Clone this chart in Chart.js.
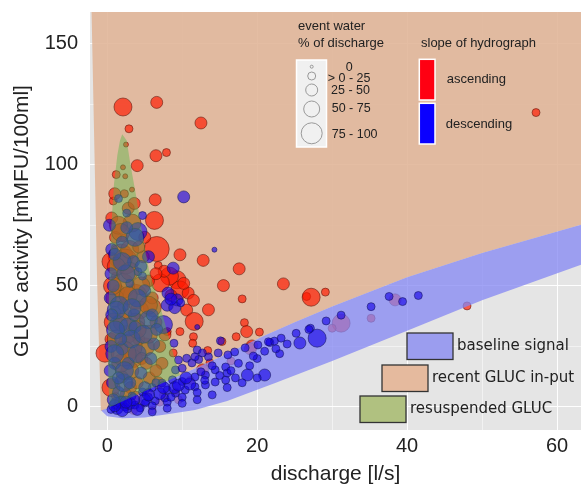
<!DOCTYPE html>
<html>
<head>
<meta charset="utf-8">
<script src="https://cdn.jsdelivr.net/npm/chart.js@4.4.1/dist/chart.umd.min.js"></script>
<style>
  html, body { margin: 0; padding: 0; background: #fff; }
  #wrap { width: 581px; height: 485px; }
</style>
</head>
<body>
<div id="wrap"><canvas id="gluc"></canvas></div>
<script>
// tick labels
const xTickLabels = [0, 20, 40, 60];
const yTickLabels = [0, 50, 100, 150];

// ascending limb (red): discharge, GLUC activity, event-water class
const ascX = [2.1, 6.6, 2.9, 12.5, 57.2, 6.5, 7.9, 4.0, 1.2, 2.1, 2.4, 2.5, 3.3, 6.4, 0.6, 3.3, 6.3, 0.9, 2.2, 1.8,
  0.5, 6.6, 9.7, 12.8, 6.8, 17.6, 15.5, 18.0, 23.5, 26.6, 27.2, 29.1, 9.3, 8.3, 7.1, 9.7, 10.8, 10.6, 11.6, 13.5,
  9.7, 11.5, 11.4, 13.4, 15.3, 18.3, 18.6, 20.3, 19.3, 17.2, 8.0, -0.3, 48.0, 38.4, 35.2, 31.2, 30.0, 19.1,
  2.4, 3.7, 1.1, 1.1, 1.0, 2.5, 6.0, 5.1, 3.5, 3.0, 7.3, 2.0, 7.7, 8.8, 4.2, 1.5, 5.5, 0.8, 2.3, 4.8, 6.5, 3.1,
  5.6, 0.5, 4.3, 2.7, 2.4, 3.0, 6.0, 12.7, 13.7, 11.1, 9.1, 7.5, 4.1, 1.1, 16.5, 8.5, 10.2, 7.6, 11.5,
  1.5, 3.0, 2.0, 4.5, 1.0, 3.0, 5.5, 1.8, 4.0, 6.5, 2.5, 0.8, 5.0, 2.8, 1.2, 6.0, 7.0, 3.8, 2.2, 4.6,
  4.5, 7.0, 3.5, 9.5, 5.5,
  0.5, 1.2, 2.2, 4.0, 5.5, 3.0, 1.8, 4.2, 0.7, 2.8, 6.5, 5.2, 6.8, 3.8, 2.0, 1.0, 3.6];
const ascY = [123.8, 125.7, 114.8, 117.2, 121.5, 103.7, 105, 99.6, 95.9, 98.9, 95.2, 108.3, 89.7, 85.5, 78, 75.9, 77, 66, 69.7, 62.1,
  60, 65.2, 62.8, 60.5, 58.4, 57, 50.1, 44.6, 50.8, 45.6, 45.3, 47.4, 52.5, 54, 51.2, 48.3, 47, 40, 35.3, 40.1,
  31.1, 29, 26.3, 23.3, 27, 34.8, 31.1, 30.9, 25.2, 29, 31.1, 22.2, 41.7, 44.2, 36.6, 34.6, 32.5, 24,
  60, 45.5, 70, 54, 39, 38, 41, 24.8, 20, 15, 18, 12.4, 29.8, 22.3, 28, 48, 52, 85, 88, 62, 35, 8,
  12, 28, 40, 30, 2.9, 0.6, -1.2, 15.3, 18.2, 11, 6.2, 5, 2.9, 4.4, 19, 46, 51, 56, 44,
  75, 65, 50, 50, 45, 25, 30, 18, 10, 15, 5, 35, 70, 82, 58, 45, 25, 35, 42, 20,
  1, 2, -1.5, 3, 6,
  8, 28, 22, 32, 42, 56, 72, 66, 50, 46, 55, 18, 10, 4, 35, 88, 84];
const ascS = [4, 3, 2, 3, 2, 3, 2, 3, 2, 1, 1, 1, 1, 3, 3, 4, 4, 1, 2, 5,
  4, 5, 3, 3, 2, 3, 3, 2, 3, 2, 4, 2, 4, 4, 4, 4, 3, 3, 4, 3,
  2, 2, 2, 2, 2, 2, 3, 2, 3, 2, 2, 4, 2, 3, 2, 4, 2, 3,
  5, 5, 3, 2, 3, 3, 4, 4, 4, 4, 3, 3, 3, 2, 3, 3, 3, 2, 2, 3, 3, 3,
  3, 3, 4, 4, 2, 2, 2, 3, 2, 2, 2, 2, 2, 2, 2, 3, 3, 3, 3,
  4, 4, 5, 4, 4, 5, 4, 4, 3, 3, 3, 4, 3, 3, 4, 3, 3, 4, 3, 3,
  2, 2, 2, 2, 2,
  4, 4, 5, 4, 4, 4, 4, 3, 4, 4, 3, 3, 3, 3, 4, 3, 3];

// descending limb (blue)
const descX = [10.2, 4.1, 14.3, 8.8, 9.3, 8.1, 12.0, 12.0, 10.6, 15.1, 8.9, 8.0, 9.0, 9.8, 8.5,
  3.7, 4.1, 4.7, 3.0, 5.5, 7.5, 1.5, 2.8, 1.1, 3.7, 0.5, 1.0, 0.7, 1.5, 0.4, 0.8, 2.6, 1.5, 0.3, 3.5, 5.0, 6.2, 4.5, 2.0, 0.5, 1.6, 4.7,
  41.5, 39.4, 35.2, 31.2, 29.2, 27.1, 25.2, 28.0, 21.7, 22.3, 23.2, 25.7, 26.9, 20.1, 37.6,
  9.1, 10.0, 11.3, 12.2, 13.5, 14.8, 16.1, 17.0, 18.4, 21.5, 9.5, 11.7, 12.7,
  18.7, 21.0, 17.1, 15.8, 14.4, 13.1, 11.7, 10.4, 9.1, 7.7, 6.4, 5.1, 3.7, 2.4, 1.3, 2.7, 4.4,
  7.3, 8.7, 6.0, 4.7, 3.3, 2.0, 10.0, 11.7, 13.1, 14.4, 15.8, 5.5, 8.0, 1.2, 0.5,
  1.2, 2.5, 4.0, 0.6, 2.0, 3.2, 5.8, 1.0, 2.2, 4.8, 3.6, 6.6, 0.4, 2.8, 1.8,
  3.0, 5.0, 7.0, 9.0, 11.0, 13.0, 2.0, 4.0, 6.0, 8.0, 10.0, 12.0, 1.0, 6.5, 16.0, 19.0, 20.0, 23.0,
  2.0, 4.5, 1.0, 3.3, 6.0, 0.6, 2.3, 4.0, 1.5, 5.0, 3.0, 0.8, 1.8, 5.5, 2.6,
  3.5, 5.5, 7.5, 8.5, 9.5, 10.5, 12.5, 14.0, 15.0, 16.5, 17.5, 19.5, 21.0, 22.5, 24.0,
  2.5, 6.0, 8.0, 10.0, 12.0, 14.0, 16.0, 18.0, 20.0];
const descY = [86.7, 72.4, 64.9, 57.3, 44.2, 47, 33, 23.5, 20.1, 27.3, 26.3, 42, 41, 43, 44.5,
  70, 55.8, 54, 51, 36, 34, 34, 33, 31.8, 33, 25, 18, 10, 6, 45, 50, 80, 86, 75, 60, 48, 26, 14, 24, 55, 42, 79,
  46, 43.5, 41.4, 37.9, 35.5, 32.5, 30.4, 28.4, 26.6, 27.2, 28.4, 26.4, 32, 25.6, 45.6,
  15.3, 16, 18.2, 19.6, 20.7, 22.3, 21.5, 22.7, 24.4, 26.9, 19.4, 20.7, 22.3,
  13.2, 13.2, 12, 11.1, 10.3, 9.1, 8.3, 7, 5.7, 3.7, 2.5, 1.7, 0.8, 0, -0.6, -0.8, -0.4,
  9.9, 11.2, 8, 6.2, 4.5, 2.9, 10.5, 12.4, 13.2, 15.3, 16.5, 4, 7, 1.5, -1,
  40, 55, 45, 65, 68, 28, 20, 22, 10, 30, 38, 32, 15, 18, 2,
  1.5, 3, 5.5, 8, 9.5, 11, -1.5, -1, 0.5, 2, 4, 6, 0.5, 10, 14, 17, 20, 22,
  60, 58, 63, 41, 38, 38, 15, 22, 12, 8, 10, 3, 28, 62, 74,
  3, 5, 8, 4, 9, 12, 14.5, 17, 13, 15, 18, 21, 23, 24, 26,
  2, -2, -0.5, 1.5, 3, 5, 8, 10, 12];
const descS = [3, 4, 1, 3, 3, 3, 1, 2, 2, 2, 2, 3, 3, 2, 3,
  4, 2, 2, 2, 4, 4, 4, 4, 4, 3, 3, 3, 3, 3, 3, 3, 2, 2, 3, 3, 3, 3, 3, 3, 3, 4, 2,
  2, 2, 2, 2, 2, 2, 2, 4, 2, 2, 2, 3, 2, 2, 2,
  2, 2, 2, 2, 2, 2, 2, 2, 2, 2, 2, 2, 2,
  3, 3, 2, 2, 2, 2, 2, 2, 2, 2, 2, 2, 2, 2, 3, 2, 2,
  2, 2, 2, 2, 2, 2, 2, 2, 2, 2, 2, 2, 2, 3, 2,
  4, 4, 4, 3, 3, 4, 3, 4, 4, 4, 3, 3, 3, 3, 3,
  3, 3, 3, 3, 3, 2, 3, 3, 2, 2, 2, 2, 3, 2, 2, 2, 2, 2,
  4, 3, 3, 4, 3, 3, 4, 4, 3, 3, 3, 3, 3, 3, 3,
  3, 3, 3, 2, 3, 3, 2, 2, 2, 2, 2, 2, 2, 2, 2,
  3, 2, 2, 2, 2, 2, 2, 2, 2];

// outline of the "baseline signal" band (top edge, then bottom edge back)
const baseX = [-0.8, 0, 5, 10, 15, 21, 25, 30, 40, 50, 63.2, 67,
  67, 63.2, 50, 40, 30, 22.4, 16, 11.7, 8, 5, 2, 0, -0.8];
const baseY = [-1.5, -0.5, 6.5, 13.5, 20.5, 29.5, 35, 41.5, 53.5, 63.5, 75.2, 78.5,
  62.5, 58.7, 44, 31.5, 19, 9.9, 2.5, -1.2, -3, -4.3, -4.6, -3.8, -1.5];

// outline of "recent GLUC in-put"
const inputX = [-2.15, -1.35, -0.85, 0, 5, 10, 15, 21, 25, 30, 40, 50, 63.2, 67, 67];
const inputY = [172, 52, -1.8, -0.5, 6.5, 13.5, 20.5, 29.5, 35, 41.5, 53.5, 63.5, 75.2, 78.5, 172];

// outline of "resuspended GLUC"
const resuspX = [2.0, 2.6, 3.1, 3.8, 4.4, 5.0, 5.6, 6.4, 7.2, 8.0, 8.8, 9.7, 5, 2, 0.3,
  0.15, 0.1, 0.3, 0.55, 0.9, 1.35, 1.7];
const resuspY = [112.5, 110, 100, 88, 77, 66, 56, 48, 40, 31, 22, 13.1, 6.5, 2.3, -0.1,
  10, 30, 55, 75, 92, 104, 110];

const SIZE_R = [0, 2.5, 4, 6, 9, 12.5];

const toPts = (xs, ys) => xs.map((x, i) => ({ x: x, y: ys[i] }));
const toBubbles = (xs, ys, ss) => xs.map((x, i) => ({ x: x, y: ys[i], r: SIZE_R[ss[i]] }));

const panelBg = {
  id: 'panelBg',
  beforeDraw(chart) {
    const { ctx, chartArea: a } = chart;
    ctx.save();
    ctx.fillStyle = '#e5e5e5';
    ctx.fillRect(a.left, a.top, a.right - a.left, a.bottom - a.top);
    ctx.restore();
  }
};

const legends = {
  id: 'legends',
  afterDraw(chart) {
    const ctx = chart.ctx;
    ctx.save();
    ctx.fillStyle = '#222';
    ctx.textBaseline = 'middle';
    ctx.font = '13px "Liberation Sans", Arial, sans-serif';
    ctx.fillText('event water', 298, 26);
    ctx.fillText('% of discharge', 298, 43);
    ctx.fillText('slope of hydrograph', 421, 43);

    // size legend box
    ctx.fillStyle = '#f0f0f0';
    ctx.fillRect(296.5, 60, 30, 87);
    ctx.strokeStyle = '#fff';
    ctx.lineWidth = 1.5;
    ctx.strokeRect(296.5, 60, 30, 87);
    ctx.strokeStyle = '#999';
    ctx.lineWidth = 1;
    [[66.7, 1.5], [76, 4], [90, 6], [109, 8], [133.3, 10.5]].forEach(c => {
      ctx.beginPath();
      ctx.arc(311.7, c[0], c[1], 0, Math.PI * 2);
      ctx.stroke();
    });
    ctx.fillStyle = '#222';
    ctx.font = '12.5px "Liberation Sans", Arial, sans-serif';
    ctx.textAlign = 'center';
    ctx.fillText('0', 349.3, 67.3);
    ctx.textAlign = 'left';
    ctx.fillText('> 0 - 25', 327.7, 79);
    ctx.fillText('25 - 50', 331, 90.7);
    ctx.fillText('50 - 75', 331.7, 109);
    ctx.fillText('75 - 100', 331.7, 134.3);

    // slope legend
    ctx.lineWidth = 1.5;
    ctx.strokeStyle = '#fff';
    ctx.fillStyle = '#ff0012';
    ctx.fillRect(419.3, 59.3, 15.7, 40.7);
    ctx.strokeRect(419.3, 59.3, 15.7, 40.7);
    ctx.fillStyle = '#0a00ff';
    ctx.fillRect(419.3, 103.3, 15.7, 40.7);
    ctx.strokeRect(419.3, 103.3, 15.7, 40.7);
    ctx.fillStyle = '#222';
    ctx.font = '13px "Liberation Sans", Arial, sans-serif';
    ctx.fillText('ascending', 446.7, 79.3);
    ctx.fillText('descending', 445.7, 124);

    // area legend
    const boxes = [
      [407, 333, 'rgb(155,157,239)', 'baseline signal'],
      [382, 365, 'rgb(229,186,158)', 'recent GLUC in-put'],
      [360, 396, 'rgb(176,193,128)', 'resuspended GLUC']
    ];
    ctx.font = '15px "DejaVu Sans", Verdana, sans-serif';
    boxes.forEach(b => {
      ctx.fillStyle = b[2];
      ctx.fillRect(b[0], b[1], 46, 26.5);
      ctx.strokeStyle = '#333';
      ctx.lineWidth = 1.3;
      ctx.strokeRect(b[0], b[1], 46, 26.5);
      ctx.fillStyle = '#222';
      ctx.fillText(b[3], b[0] + 50, b[1] + 13.5);
    });
    ctx.restore();
  }
};

new Chart(document.getElementById('gluc'), {
  type: 'bubble',
  data: {
    datasets: [
      {
        type: 'line', label: 'recent GLUC in-put', order: 6,
        data: toPts(inputX, inputY),
        backgroundColor: 'rgba(223,178,148,0.86)', borderWidth: 0, pointRadius: 0, fill: 'shape', tension: 0
      },
      {
        label: 'ascending', order: 5,
        data: toBubbles(ascX, ascY, ascS),
        backgroundColor: 'rgba(255,25,0,0.68)', borderColor: 'rgba(90,20,10,0.55)', borderWidth: 1
      },
      {
        type: 'line', label: 'baseline signal', order: 4,
        data: toPts(baseX, baseY),
        backgroundColor: 'rgba(131,133,243,0.75)', borderWidth: 0, pointRadius: 0, fill: 'shape', tension: 0
      },
      {
        label: 'descending', order: 3,
        data: toBubbles(descX, descY, descS),
        backgroundColor: 'rgba(20,0,232,0.62)', borderColor: 'rgba(20,20,90,0.55)', borderWidth: 1
      },
      {
        type: 'line', label: 'resuspended GLUC', order: 2,
        data: toPts(resuspX, resuspY),
        backgroundColor: 'rgba(93,182,73,0.45)', borderWidth: 0, pointRadius: 0, fill: 'shape', tension: 0
      }
    ]
  },
  options: {
    responsive: true,
    maintainAspectRatio: false,
    animation: false,
    events: [],
    layout: { autoPadding: false, padding: 0 },
    plugins: {
      legend: { display: false },
      tooltip: { enabled: false }
    },
    scales: {
      x: {
        type: 'linear', min: -2.3, max: 63.2,
        afterFit: s => { s.height = 55; },
        border: { display: false },
        grid: {
          drawTicks: false,
          color: c => (c.tick && c.tick.value % 20 === 0) ? 'rgba(255,255,255,0.95)' : 'rgba(255,255,255,0.5)',
          lineWidth: 1
        },
        ticks: {
          stepSize: 10, includeBounds: false, autoSkip: false, maxRotation: 0, padding: 4,
          color: '#222', font: { size: 20, family: '"Liberation Sans", Arial, sans-serif' },
          callback: v => xTickLabels.includes(v) ? String(v) : ''
        },
        title: {
          display: true, text: 'discharge [l/s]', color: '#222',
          font: { size: 21, family: '"Liberation Sans", Arial, sans-serif' },
          padding: { top: 0, bottom: -2 }
        }
      },
      y: {
        type: 'linear', min: -9.5, max: 163,
        afterFit: s => { s.width = 90; },
        border: { display: false },
        grid: {
          drawTicks: true,
          tickLength: 12,
          tickColor: 'rgba(0,0,0,0)',
          color: c => (c.tick && c.tick.value % 50 === 0) ? 'rgba(255,255,255,0.95)' : 'rgba(255,255,255,0.5)',
          lineWidth: 1
        },
        ticks: {
          stepSize: 25, includeBounds: false, autoSkip: false, padding: 0,
          color: '#222', font: { size: 20, family: '"Liberation Sans", Arial, sans-serif' },
          callback: v => yTickLabels.includes(v) ? String(v) : ''
        },
        title: {
          display: true, text: 'GLUC activity [mMFU/100ml]', color: '#222',
          font: { size: 21, family: '"Liberation Sans", Arial, sans-serif' },
          padding: { top: 9.5, bottom: 0 }
        }
      }
    }
  },
  plugins: [panelBg, legends]
});
</script>
</body>
</html>
